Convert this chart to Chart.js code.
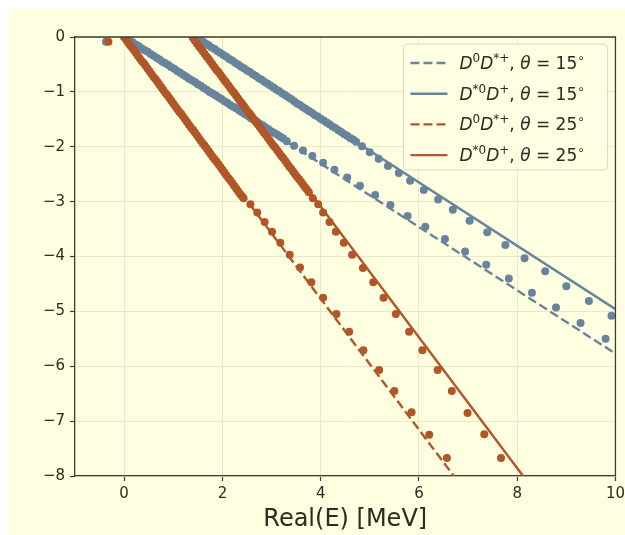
<!DOCTYPE html>
<html>
<head>
<meta charset="utf-8">
<script src="https://cdn.jsdelivr.net/npm/chart.js@4.4.1/dist/chart.umd.min.js"></script>
<style>
  body { margin: 0; background: #ffffff; overflow: hidden; }
  #wrap { position: absolute; left: 8px; top: 9px; width: 621px; height: 526px; background: #fefee0; }
</style>
</head>
<body>
<div id="wrap"><canvas id="poleChart" width="621" height="526"></canvas></div>
<script>
// tick labels
const xTicks = [0, 2, 4, 6, 8, 10];
const yTicks = [0, -1, -2, -3, -4, -5, -6, -7, -8];

// legend labels (^{...} = superscript)
const legendLabels = [
    'D^{0}D^{*+}, θ = 15^{∘}',
    'D^{*0}D^{+}, θ = 15^{∘}',
    'D^{0}D^{*+}, θ = 25^{∘}',
    'D^{*0}D^{+}, θ = 25^{∘}'
];

// rotated continuum lines (start / end points)
const lineBlueDashedX = [0, 10];
const lineBlueDashedY = [0, -5.77];
const lineBlueSolidX = [1.41, 10];
const lineBlueSolidY = [0, -4.96];
const lineOrangeDashedX = [0, 6.71];
const lineOrangeDashedY = [0, -8];
const lineOrangeSolidX = [1.41, 8.12];
const lineOrangeSolidY = [0, -8];

// eigenvalues, theta = 15 deg, D0D*+ branch
const blue15aX = [-0.37,
    0.00, 0.06, 0.12, 0.18, 0.24, 0.30, 0.36, 0.42, 0.48, 0.54, 0.60, 0.66, 0.72, 0.78, 0.84, 0.90, 0.96, 1.02, 1.08, 1.14,
    1.20, 1.26, 1.32, 1.38, 1.44, 1.50, 1.56, 1.62, 1.68, 1.74, 1.80, 1.86, 1.92, 1.98, 2.04, 2.10, 2.16, 2.22, 2.28, 2.34,
    2.40, 2.46, 2.52, 2.58, 2.64, 2.70, 2.76, 2.82, 2.88, 2.94, 3.00, 3.06, 3.12, 3.18, 3.24,
    3.31, 3.46, 3.64, 3.83, 4.05, 4.28, 4.54, 4.80, 5.11, 5.42, 5.77, 6.13, 6.53, 6.94, 7.37, 7.83, 8.30, 8.79, 9.29, 9.80];
const blue15aY = [-0.085,
    0.00, -0.03, -0.07, -0.10, -0.14, -0.17, -0.21, -0.24, -0.27, -0.31, -0.34, -0.38, -0.41, -0.45, -0.48, -0.51, -0.55, -0.58, -0.62, -0.65,
    -0.69, -0.72, -0.76, -0.79, -0.82, -0.86, -0.89, -0.93, -0.96, -1.00, -1.03, -1.06, -1.10, -1.13, -1.17, -1.20, -1.24, -1.27, -1.30, -1.34,
    -1.37, -1.41, -1.44, -1.48, -1.51, -1.54, -1.58, -1.61, -1.65, -1.68, -1.72, -1.75, -1.78, -1.82, -1.85,
    -1.90, -1.98, -2.07, -2.17, -2.29, -2.42, -2.56, -2.71, -2.88, -3.06, -3.26, -3.46, -3.68, -3.91, -4.15, -4.40, -4.66, -4.93, -5.21, -5.50];

// eigenvalues, theta = 15 deg, D*0D+ branch
const blue15bX = [1.48, 1.54, 1.60, 1.66, 1.72, 1.78, 1.84, 1.90, 1.96, 2.02, 2.08, 2.14, 2.20, 2.26, 2.32, 2.38, 2.44, 2.50,
    2.56, 2.62, 2.68, 2.74, 2.80, 2.86, 2.92, 2.98, 3.04, 3.10, 3.16, 3.22, 3.28, 3.34, 3.40, 3.46, 3.52, 3.58,
    3.64, 3.70, 3.76, 3.82, 3.88, 3.94, 4.00, 4.06, 4.12, 4.18, 4.24, 4.30, 4.36, 4.42, 4.48, 4.54, 4.60, 4.66, 4.72,
    4.84, 5.00, 5.18, 5.37, 5.59, 5.82, 6.10, 6.39, 6.69, 7.03, 7.39, 7.76, 8.15, 8.57, 9.00, 9.46, 9.92];
const blue15bY = [-0.01, -0.05, -0.08, -0.12, -0.15, -0.19, -0.22, -0.26, -0.29, -0.33, -0.36, -0.40, -0.43, -0.47, -0.50, -0.54, -0.57, -0.61,
    -0.64, -0.68, -0.71, -0.75, -0.78, -0.82, -0.85, -0.89, -0.92, -0.96, -0.99, -1.03, -1.06, -1.10, -1.13, -1.17, -1.21, -1.24,
    -1.28, -1.31, -1.35, -1.38, -1.42, -1.45, -1.49, -1.52, -1.56, -1.59, -1.63, -1.66, -1.70, -1.73, -1.77, -1.80, -1.84, -1.87, -1.91,
    -1.99, -2.10, -2.22, -2.35, -2.48, -2.62, -2.79, -2.96, -3.15, -3.35, -3.56, -3.79, -4.03, -4.27, -4.54, -4.81, -5.08];

// eigenvalues, theta = 25 deg, D0D*+ branch
const orange25aX = [-0.32,
    0.00, 0.04, 0.08, 0.12, 0.16, 0.20, 0.24, 0.28, 0.32, 0.36, 0.40, 0.44, 0.48, 0.52, 0.56, 0.60, 0.64, 0.68, 0.72, 0.76,
    0.80, 0.84, 0.88, 0.92, 0.96, 1.00, 1.04, 1.08, 1.12, 1.16, 1.20, 1.24, 1.28, 1.32, 1.36, 1.40, 1.44, 1.48, 1.52, 1.56,
    1.60, 1.64, 1.68, 1.72, 1.76, 1.80, 1.84, 1.88, 1.92, 1.96, 2.00, 2.04, 2.08, 2.12, 2.16, 2.20, 2.24, 2.28, 2.32, 2.36, 2.40,
    2.43, 2.57, 2.71, 2.86, 3.01, 3.18, 3.37, 3.58, 3.81, 4.05, 4.32, 4.58, 4.87, 5.19, 5.50, 5.85, 6.21, 6.57];
const orange25aY = [-0.085,
    0.00, -0.05, -0.10, -0.15, -0.19, -0.24, -0.29, -0.34, -0.39, -0.44, -0.48, -0.53, -0.58, -0.63, -0.68, -0.73, -0.77, -0.82, -0.87, -0.92,
    -0.97, -1.02, -1.06, -1.11, -1.16, -1.21, -1.26, -1.31, -1.36, -1.40, -1.45, -1.50, -1.55, -1.60, -1.65, -1.69, -1.74, -1.79, -1.84, -1.89,
    -1.94, -1.98, -2.03, -2.08, -2.13, -2.18, -2.23, -2.27, -2.32, -2.37, -2.42, -2.47, -2.52, -2.57, -2.61, -2.66, -2.71, -2.76, -2.81, -2.86, -2.90,
    -2.94, -3.05, -3.20, -3.37, -3.55, -3.75, -3.97, -4.20, -4.47, -4.75, -5.05, -5.37, -5.71, -6.07, -6.45, -6.84, -7.25, -7.67];

// eigenvalues, theta = 25 deg, D*0D+ branch
const orange25bX = [1.40, 1.44, 1.48, 1.52, 1.56, 1.60, 1.64, 1.68, 1.72, 1.76, 1.80, 1.84, 1.88, 1.92, 1.96, 2.00, 2.04, 2.08, 2.12, 2.16,
    2.20, 2.24, 2.28, 2.32, 2.36, 2.40, 2.44, 2.48, 2.52, 2.56, 2.60, 2.64, 2.68, 2.72, 2.76, 2.80, 2.84, 2.88, 2.92, 2.96,
    3.00, 3.04, 3.08, 3.12, 3.16, 3.20, 3.24, 3.28, 3.32, 3.36, 3.40, 3.44, 3.48, 3.52, 3.56, 3.60, 3.64, 3.68, 3.72, 3.76,
    3.84, 3.95, 4.05, 4.18, 4.31, 4.47, 4.64, 4.86, 5.07, 5.28, 5.53, 5.80, 6.07, 6.38, 6.67, 6.99, 7.33, 7.67];
const orange25bY = [-0.02, -0.07, -0.12, -0.17, -0.21, -0.26, -0.31, -0.36, -0.40, -0.45, -0.50, -0.55, -0.60, -0.64, -0.69, -0.74, -0.79, -0.83, -0.88, -0.93,
    -0.98, -1.02, -1.07, -1.12, -1.17, -1.21, -1.26, -1.31, -1.36, -1.40, -1.45, -1.50, -1.55, -1.59, -1.64, -1.69, -1.74, -1.78, -1.83, -1.88,
    -1.93, -1.98, -2.02, -2.07, -2.12, -2.17, -2.21, -2.26, -2.31, -2.36, -2.40, -2.45, -2.50, -2.55, -2.59, -2.64, -2.69, -2.74, -2.78, -2.83,
    -2.94, -3.05, -3.20, -3.37, -3.55, -3.75, -3.97, -4.21, -4.47, -4.75, -5.05, -5.37, -5.71, -6.07, -6.45, -6.85, -7.24, -7.67];

const blue = '#68849c';
const orange = '#b05628';
const textColor = '#2b2b1f';
const axisColor = '#3d3d2a';

function pts(xs, ys) {
    return xs.map((x, i) => ({ x: x, y: ys[i] }));
}

function lineSet(label, xs, ys, color, dashed) {
    return {
        label: label,
        data: pts(xs, ys),
        showLine: true,
        borderColor: color,
        backgroundColor: color,
        borderWidth: 2.4,
        borderDash: dashed ? [9, 4] : [],
        pointRadius: 0,
        order: 3
    };
}

function dotSet(xs, ys, color, order) {
    return {
        label: '',
        data: pts(xs, ys),
        showLine: false,
        backgroundColor: color,
        borderWidth: 0,
        pointRadius: 4,
        pointHoverRadius: 4,
        order: order
    };
}

// draws text like D^{0}D^{*+} with italic letters and superscripts
function drawMath(ctx, text, x, y) {
    const parts = text.split(/\^\{([^}]*)\}/);
    ctx.fillStyle = textColor;
    ctx.textBaseline = 'alphabetic';
    ctx.textAlign = 'left';
    parts.forEach((part, i) => {
        const sup = i % 2 === 1;
        for (const ch of part) {
            const italic = ch === 'D' || ch === 'θ';
            const size = sup ? 12 : 17;
            ctx.font = (italic ? 'italic ' : '') + size + 'px "DejaVu Sans"';
            ctx.fillText(ch, x, y + 6 - (sup ? 7 : 0));
            x += ctx.measureText(ch).width;
        }
    });
}

const framePlugin = {
    id: 'frame',
    afterDatasetsDraw(chart) {
        const { ctx, chartArea } = chart;
        ctx.save();
        ctx.strokeStyle = axisColor;
        ctx.lineWidth = 1.3;
        ctx.beginPath();
        ctx.moveTo(chartArea.left, chartArea.top);
        ctx.lineTo(chartArea.right, chartArea.top);
        ctx.lineTo(chartArea.right, chartArea.bottom);
        ctx.stroke();
        ctx.restore();
    }
};

const legendPlugin = {
    id: 'insetLegend',
    afterDraw(chart) {
        const { ctx, chartArea } = chart;
        const w = 204, h = 126;
        const x0 = chartArea.right - 8 - w;
        const y0 = chartArea.top + 7;
        ctx.save();
        ctx.beginPath();
        ctx.roundRect(x0, y0, w, h, 4);
        ctx.fillStyle = 'rgba(254, 254, 226, 0.85)';
        ctx.fill();
        ctx.strokeStyle = '#d8d8c2';
        ctx.lineWidth = 1;
        ctx.stroke();
        legendLabels.forEach((label, row) => {
            const ds = chart.data.datasets[row];
            const cy = y0 + 19 + row * 30.7;
            ctx.beginPath();
            ctx.setLineDash(ds.borderDash);
            ctx.strokeStyle = ds.borderColor;
            ctx.lineWidth = ds.borderWidth;
            ctx.moveTo(x0 + 7, cy);
            ctx.lineTo(x0 + 44, cy);
            ctx.stroke();
            ctx.setLineDash([]);
            drawMath(ctx, label, x0 + 56, cy);
        });
        ctx.restore();
    }
};

Chart.defaults.font.family = '"DejaVu Sans"';
Chart.defaults.color = textColor;

const ctx = document.getElementById('poleChart').getContext('2d');
const poleChart = new Chart(ctx, {
    type: 'scatter',
    data: {
        datasets: [
            lineSet('D0D*+, θ = 15°', lineBlueDashedX, lineBlueDashedY, blue, true),
            lineSet('D*0D+, θ = 15°', lineBlueSolidX, lineBlueSolidY, blue, false),
            lineSet('D0D*+, θ = 25°', lineOrangeDashedX, lineOrangeDashedY, orange, true),
            lineSet('D*0D+, θ = 25°', lineOrangeSolidX, lineOrangeSolidY, orange, false),
            dotSet(blue15aX, blue15aY, blue, 2),
            dotSet(blue15bX, blue15bY, blue, 2),
            dotSet(orange25aX, orange25aY, orange, 1),
            dotSet(orange25bX, orange25bY, orange, 1)
        ]
    },
    options: {
        responsive: false,
        animation: false,
        layout: { padding: { top: 28, right: 0, left: 0, bottom: 0 } },
        scales: {
            x: {
                type: 'linear',
                min: -1,
                max: 10,
                afterBuildTicks: (scale) => { scale.ticks = xTicks.map(v => ({ value: v })); },
                afterFit: (scale) => { scale.height = 59; },
                ticks: { font: { size: 15 }, color: textColor, padding: 4, maxRotation: 0 },
                grid: { color: '#ebe8c8', lineWidth: 1, tickColor: axisColor, tickLength: 5, tickWidth: 1.2 },
                border: { color: axisColor, width: 1.3 },
                title: {
                    display: true,
                    text: 'Real(E) [MeV]',
                    font: { size: 24 },
                    color: textColor,
                    padding: { top: 0, bottom: 1 }
                }
            },
            y: {
                type: 'linear',
                min: -8,
                max: 0,
                afterBuildTicks: (scale) => { scale.ticks = yTicks.map(v => ({ value: v })); },
                afterFit: (scale) => { scale.width = 67; },
                ticks: {
                    font: { size: 15 },
                    color: textColor,
                    padding: 5,
                    callback: (v) => String(v).replace('-', '\u2212')
                },
                grid: { color: '#ebe8c8', lineWidth: 1, tickColor: axisColor, tickLength: 5, tickWidth: 1.2 },
                border: { color: axisColor, width: 1.3 }
            }
        },
        plugins: {
            legend: { display: false },
            tooltip: { enabled: false }
        }
    },
    plugins: [framePlugin, legendPlugin]
});
</script>
</body>
</html>
